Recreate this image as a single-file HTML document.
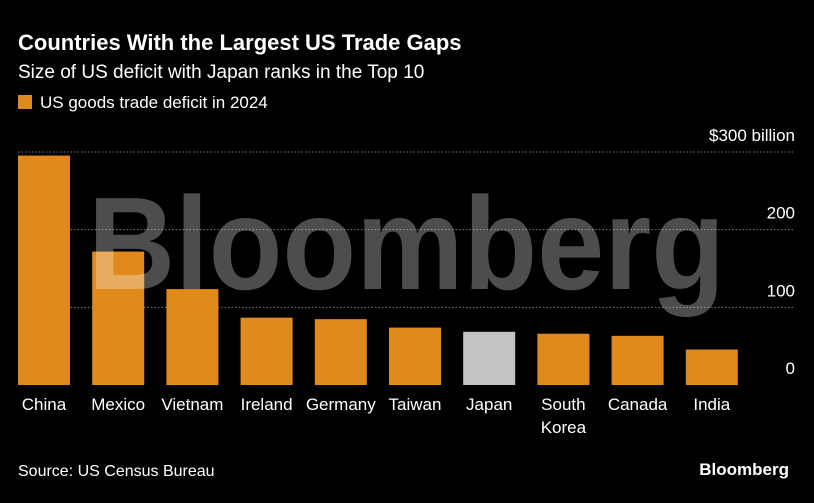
<!DOCTYPE html>
<html><head><meta charset="utf-8"><style>
body{margin:0;background:#000;width:814px;height:498px;overflow:hidden;font-family:"Liberation Sans",sans-serif;}
</style></head><body>
<svg width="814" height="498" xmlns="http://www.w3.org/2000/svg" font-family="Liberation Sans, sans-serif">
<rect width="814" height="498" fill="#000"/>
<text x="18" y="50" fill="#fff" font-size="22" font-weight="bold">Countries With the Largest US Trade Gaps</text>
<text x="18" y="78" fill="#fff" font-size="19">Size of US deficit with Japan ranks in the Top 10</text>
<rect x="18" y="95" width="14" height="14" fill="#e08a1e"/>
<text x="40" y="108" fill="#fff" font-size="17">US goods trade deficit in 2024</text>
<g id="grid"></g>
<g id="bars"></g>
<text x="88" y="289" font-size="132" font-weight="bold" fill="rgba(255,255,255,0.3)" textLength="637" lengthAdjust="spacingAndGlyphs">Bloomberg</text>
<g id="xlabels"></g>
<text x="18" y="476" fill="#fff" font-size="16">Source: US Census Bureau</text>
<text x="789" y="475" fill="#fff" font-size="17" font-weight="bold" text-anchor="end">Bloomberg</text>
</svg>
<script>
const categories=["China","Mexico","Vietnam","Ireland","Germany","Taiwan","Japan","South Korea","Canada","India"];
const values=[295.4,171.8,123.5,86.7,84.8,73.9,68.5,66.0,63.3,45.7];
const highlight=["Japan"];
const ticks=[0,100,200,300];
const tickLabels=["0","100","200","$300 billion"];
const NS="http://www.w3.org/2000/svg";
const y0=385,pxPer=0.7767;
function yScale(v){return y0-v*pxPer;}
function xScale(i){return 18+i*74.2;}
const bw=52;
const grid=document.getElementById('grid');
ticks.forEach((t,i)=>{
  const y=yScale(t);
  if(t>0){
    const l=document.createElementNS(NS,'line');
    
    
    l.setAttribute('x1',18);l.setAttribute('x2',795);l.setAttribute('y1',y);l.setAttribute('y2',y);
    l.setAttribute('stroke','#777');l.setAttribute('stroke-dasharray','1.5,2');
    grid.appendChild(l);
  }
  const tx=document.createElementNS(NS,'text');
  
  
  tx.setAttribute('x',795);tx.setAttribute('y',y-11);tx.setAttribute('text-anchor','end');
  tx.setAttribute('fill','#fff');tx.setAttribute('font-size','17');
  tx.textContent=tickLabels[i];
  grid.appendChild(tx);
});
const bars=document.getElementById('bars'),xl=document.getElementById('xlabels');
categories.forEach((c,i)=>{
  const r=document.createElementNS(NS,'rect');
  
  
  const y=yScale(values[i]);
  r.setAttribute('x',xScale(i));r.setAttribute('y',y);r.setAttribute('width',bw);r.setAttribute('height',y0-y);
  r.setAttribute('fill',highlight.includes(c)?'#c3c3c3':'#e08a1e');
  bars.appendChild(r);
  const words=c.split(' ');
  words.forEach((w,k)=>{
    const t=document.createElementNS(NS,'text');
    
    
    t.setAttribute('x',xScale(i)+bw/2);t.setAttribute('y',410+k*23);
    t.setAttribute('text-anchor','middle');t.setAttribute('fill','#fff');t.setAttribute('font-size','17');
    t.textContent=w;
    xl.appendChild(t);
  });
});
</script>
</body></html>
